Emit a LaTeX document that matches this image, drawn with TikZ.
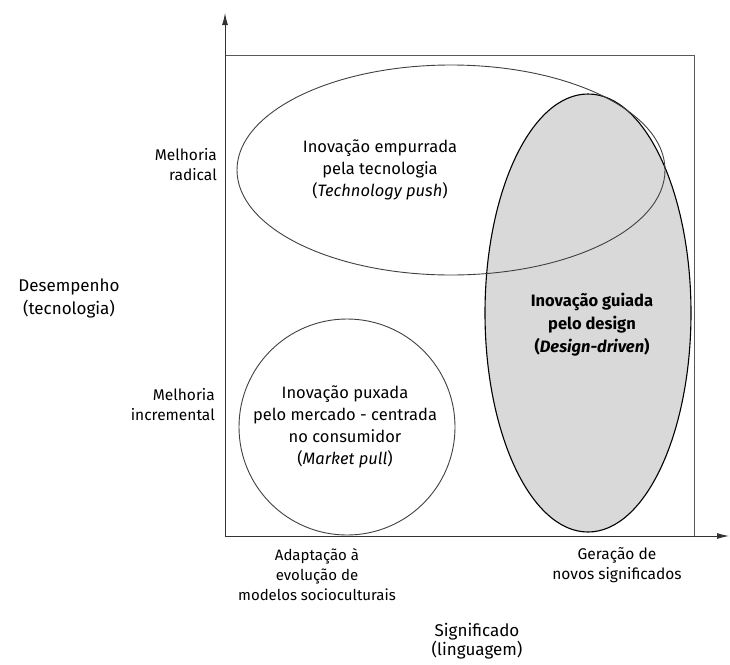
\documentclass[tikz,border=0pt]{standalone}
\usepackage{fontspec}
\setmainfont{Fira Sans}
\usetikzlibrary{shapes.geometric,arrows.meta}
\begin{document}
\begin{tikzpicture}[x=1pt,y=-1pt,
  axisline/.style={draw=black!80,line width=0.9pt},
  boxline/.style={draw=black!65,line width=0.9pt},
  lbl/.style={font=\fontsize{15.5}{20}\selectfont,align=center,inner sep=0pt,text=black},
  intext/.style={font=\fontsize{16.5}{22}\selectfont,align=center,inner sep=0pt,text=black},
  oval/.style={ellipse,inner sep=0pt,draw=black!75,line width=0.9pt}]
\useasboundingbox (0,0) rectangle (730,664);
% axes and frame
\coordinate (O) at (225,536);
\coordinate (ytop) at (225,13);
\coordinate (xend) at (729,536);
\coordinate (tl) at (225,55);
\coordinate (br) at (694,536);
\draw[boxline] (tl) -| (br);
\draw[axisline,-{Latex[length=12pt,width=6pt]}] (O) -- (ytop);
\draw[axisline,-{Latex[length=12pt,width=6pt]}] (O) -- (xend);
% design-driven ellipse (filled)
\node[oval,fill=black!15,draw=black,line width=1.1pt,minimum width=206,minimum height=438] (design) at (588,313) {};
% technology push ellipse
\node[oval,minimum width=428,minimum height=210] (tech) at (451,170) {};
% market pull circle
\node[oval,minimum width=216,minimum height=216] (market) at (347,427) {};
% inner texts
\node[intext] (techtxt) at (380,170) {Inovação empurrada\\pela tecnologia\\(\textit{Technology push})};
\node[intext,font=\fontsize{16.5}{23}\selectfont\bfseries] (designtxt) at (592,325) {Inovação guiada\\pelo design\\(\textit{Design-driven})};
\node[intext] (markettxt) at (345,427) {Inovação puxada\\pelo mercado - centrada\\no consumidor\\(\textit{Market pull})};
% axis labels
\node[lbl,anchor=east,align=right] (radical) at (217,165) {Melhoria\\radical};
\node[lbl,anchor=east,align=right] (incr) at (215,405) {Melhoria\\incremental};
\node[lbl,font=\fontsize{17}{23}\selectfont] (desemp) at (69,298) {Desempenho\\(tecnologia)};
\node[lbl,font=\fontsize{15}{20}\selectfont] (adapt) at (317,575) {Adaptação à\\evolução de\\modelos socioculturais};
\node[lbl] (geracao) at (617,565) {Geração de\\novos significados};
\node[lbl,font=\fontsize{17}{19}\selectfont] (signif) at (477,641) {Significado\\(linguagem)};
\end{tikzpicture}
\end{document}
